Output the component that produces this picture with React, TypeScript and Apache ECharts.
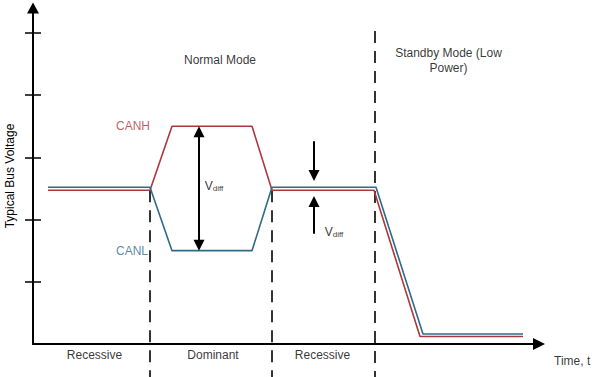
import React, { useEffect, useRef } from "react";
import * as echarts from "echarts";

const FONT = "'Liberation Sans', Arial, Helvetica, sans-serif";
const CANH_COLOR = "#ab383c";
const CANL_COLOR = "#2e6b8a";

// axis extents (arbitrary time units / arbitrary voltage units)
const timeMax = 506;
const voltMax = 5.4;
const voltTicks = [1, 2, 3, 4, 5];

// CANH / CANL waveforms
const canhTime = [15, 117, 139, 219, 239, 341, 387, 490];
const canhVolt = [2.47, 2.47, 3.5, 3.5, 2.47, 2.47, 0.12, 0.12];
const canlTime = [15, 117, 139, 219, 239, 343, 390, 490];
const canlVolt = [2.52, 2.52, 1.5, 1.5, 2.52, 2.52, 0.16, 0.16];

// bit boundaries (dashed)
const boundaryTime = [117, 239, 342];
const boundaryTop = [2.47, 2.47, 5.03];
const boundaryBottom = -0.53;

// segment labels under the time axis
const segmentNames = ["Recessive", "Dominant", "Recessive"];
const segmentTime = [61.5, 180, 289.5];
const segmentVolt = -0.177;

// mode labels
const modeNames = ["Normal Mode", "Standby Mode (Low\nPower)"];
const modeTime = [187, 415.5];
const modeVolt = [4.564, 4.556];

// signal name labels
const signalNames = ["CANH", "CANL"];
const signalTime = [100, 99];
const signalVolt = [3.5, 1.495];

// Vdiff annotations
const vdiffDomTime = 166;
const vdiffRecTime = 281;
const vdiffRecFrom = [3.26, 1.77];
const vdiffRecTip = [2.62, 2.38];
const vdiffLabelTime = [181, 301];
const vdiffLabelVolt = [2.555, 1.816];
const arrowInset = 0.088;

const timeLabel = "Time, t";
const timeLabelPos = [521, -0.273];

export default function App() {
  const ref = useRef<HTMLDivElement>(null);

  useEffect(() => {
    if (!ref.current) return;
    const chart = echarts.init(ref.current, undefined, { renderer: "svg" });

    const noBorder = { textBorderWidth: 0, textBorderColor: "transparent", textShadowBlur: 0 };
    const txt = { fontFamily: FONT, fontSize: 12, color: "#000", ...noBorder };
    const vdiffRich = {
      v: { fontFamily: FONT, fontSize: 12, lineHeight: 14, verticalAlign: "bottom", color: "#000", ...noBorder },
      s: { fontFamily: FONT, fontSize: 8, lineHeight: 8, verticalAlign: "bottom", color: "#000", ...noBorder },
    };

    const labelItems: any[] = [];
    segmentNames.forEach((n, i) =>
      labelItems.push({ value: [segmentTime[i], segmentVolt], label: { formatter: n } })
    );
    modeNames.forEach((n, i) =>
      labelItems.push({ value: [modeTime[i], modeVolt[i]], label: { formatter: n, lineHeight: 15 } })
    );
    signalNames.forEach((n, i) =>
      labelItems.push({
        value: [signalTime[i], signalVolt[i]],
        label: { formatter: n, color: i === 0 ? CANH_COLOR : CANL_COLOR },
      })
    );
    vdiffLabelTime.forEach((t, i) =>
      labelItems.push({
        value: [t, vdiffLabelVolt[i]],
        label: { formatter: "{v|V}{s|diff}", rich: vdiffRich, color: "#000" },
      })
    );
    labelItems.push({ value: timeLabelPos, label: { formatter: timeLabel, align: "left" } });

    const canhDom = canhVolt[2];
    const canlDom = canlVolt[2];

    const option: any = {
      animation: false,
      backgroundColor: "#fff",
      grid: { left: 33, right: 53, top: 8, bottom: 33, containLabel: false, outerBoundsMode: "none" },
      xAxis: {
        type: "value",
        min: 0,
        max: timeMax,
        axisLine: {
          show: true,
          onZero: false,
          symbol: ["none", "triangle"],
          symbolSize: [12, 12],
          lineStyle: { color: "#000", width: 2 },
        },
        axisTick: { show: false },
        axisLabel: { show: false },
        splitLine: { show: false },
      },
      yAxis: [
        {
          type: "value",
          min: 0,
          max: voltMax,
          interval: 1,
          name: "Typical Bus Voltage",
          nameLocation: "middle",
          nameGap: 17,
          nameTextStyle: { ...txt },
          axisLine: {
            show: true,
            onZero: false,
            symbol: ["none", "triangle"],
            symbolSize: [12, 11],
            lineStyle: { color: "#000", width: 2 },
          },
          axisTick: { show: true, length: 8, customValues: voltTicks, lineStyle: { color: "#000", width: 1.5 } },
          axisLabel: { show: false },
          splitLine: { show: false },
        },
        {
          type: "value",
          min: 0,
          max: voltMax,
          interval: 1,
          position: "left",
          offset: 0,
          axisLine: { show: false, onZero: false },
          axisTick: {
            show: true,
            inside: true,
            length: 8,
            customValues: voltTicks,
            lineStyle: { color: "#000", width: 1.5 },
          },
          axisLabel: { show: false },
          splitLine: { show: false },
        },
      ],
      series: [
        ...boundaryTime.map((t, i) => ({
          type: "line",
          data: [
            [t, boundaryTop[i]],
            [t, boundaryBottom],
          ],
          symbol: "none",
          clip: false,
          silent: true,
          z: 1,
          lineStyle: { color: "#333", width: 2, type: [12, 8] },
        })),
        {
          name: "CANH",
          type: "line",
          data: canhTime.map((t, i) => [t, canhVolt[i]]),
          symbol: "none",
          clip: false,
          silent: true,
          z: 3,
          lineStyle: { color: CANH_COLOR, width: 1.6 },
        },
        {
          name: "CANL",
          type: "line",
          data: canlTime.map((t, i) => [t, canlVolt[i]]),
          symbol: "none",
          clip: false,
          silent: true,
          z: 3,
          lineStyle: { color: CANL_COLOR, width: 1.6 },
        },
        {
          type: "scatter",
          data: labelItems,
          symbol: "circle",
          symbolSize: 0,
          clip: false,
          silent: true,
          z: 4,
          color: "#000",
          itemStyle: { color: "#000" },
          label: { show: true, position: "inside", ...txt },
          labelLayout: { hideOverlap: false },
          markLine: {
            silent: true,
            symbol: ["none", "triangle"],
            symbolSize: 11,
            label: { show: false },
            emphasis: { disabled: true },
            lineStyle: { color: "#000", width: 2, type: "solid" },
            data: [
              [
                { coord: [vdiffDomTime, canhDom - arrowInset], symbol: "triangle" },
                { coord: [vdiffDomTime, canlDom + arrowInset], symbol: "triangle" },
              ],
              [
                { coord: [vdiffRecTime, vdiffRecFrom[0]], symbol: "none" },
                { coord: [vdiffRecTime, vdiffRecTip[0] + arrowInset], symbol: "triangle" },
              ],
              [
                { coord: [vdiffRecTime, vdiffRecFrom[1]], symbol: "none" },
                { coord: [vdiffRecTime, vdiffRecTip[1] - arrowInset], symbol: "triangle" },
              ],
            ],
          },
        },
      ],
    };

    chart.setOption(option);
    return () => chart.dispose();
  }, []);

  return (
    <div
      ref={ref}
      style={{ position: "fixed", left: 0, top: 0, width: 592, height: 377, background: "#fff" }}
    />
  );
}
